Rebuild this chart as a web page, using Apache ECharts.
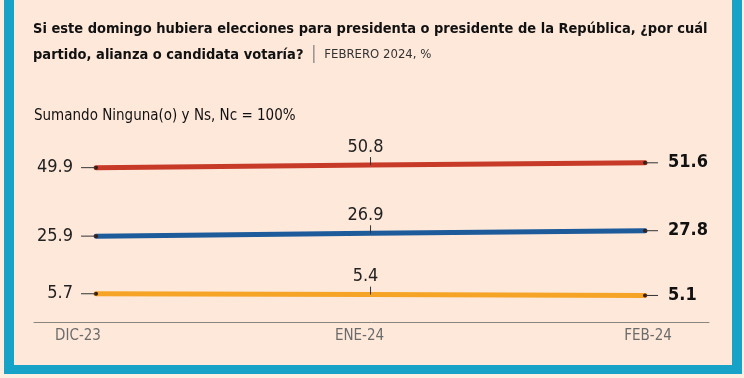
<!DOCTYPE html>
<html>
<head>
<meta charset="utf-8">
<script src="https://cdn.jsdelivr.net/npm/echarts@6/dist/echarts.min.js"></script>
<style>
  html, body { margin: 0; padding: 0; background: #fcefe2; }
  #frame {
    position: absolute; left: 4px; top: -10px; width: 718px; height: 375px;
    background: #fde8da; border: 10px solid #17a2c8; border-top: none; border-bottom-width: 9px;
  }
  #chart { position: absolute; left: 0; top: 0; width: 744px; height: 378px; }
</style>
</head>
<body>
<div id="frame"></div>
<div id="chart"></div>
<script>
const categories = ['DIC-23', 'ENE-24', 'FEB-24'];
const seriesNames = ['Sigamos Haciendo Historia', 'Fuerza y Corazón por México', 'Movimiento Ciudadano'];
const seriesRed = [49.9, 50.8, 51.6];
const seriesBlue = [25.9, 26.9, 27.8];
const seriesOrange = [5.7, 5.4, 5.1];
const seriesColors = ['#c83a28', '#1d5b9b', '#f6a426'];

const FONT = "'DejaVu Sans Condensed', 'Liberation Sans Narrow', sans-serif";
const allValues = [seriesRed, seriesBlue, seriesOrange];

function lineSeries(name, values, color) {
  return {
    name: name,
    type: 'line',
    z: 3,
    data: values.map((v, i) => {
      const item = { value: [i, v] };
      if (i === 0) {
        item.symbol = 'circle'; item.symbolSize = 4;
        item.label = { show: true, position: 'left', distance: 21, fontSize: 18, color: '#222', fontFamily: FONT };
      } else if (i === values.length - 1) {
        item.symbol = 'circle'; item.symbolSize = 4;
        item.label = { show: true, position: 'right', distance: 21, fontSize: 18, fontWeight: 'bold', color: '#111', fontFamily: FONT };
      } else {
        item.symbol = 'circle'; item.symbolSize = 0.1;
        item.label = { show: true, position: 'top', distance: 9, fontSize: 18, color: '#222', fontFamily: FONT, padding: [0, 10, 0, 0] };
      }
      return item;
    }),
    lineStyle: { color: color, width: 5, cap: 'round' },
    itemStyle: { color: '#3a1c12', borderWidth: 0 },
    label: { formatter: (p) => p.value[1].toFixed(1) },
    emphasis: { disabled: true },
    animation: false
  };
}

function leaderSeries(values) {
  return {
    type: 'custom',
    z: 4,
    data: values.map((v, i) => [i, v]),
    renderItem: function (params, api) {
      const p = api.coord([api.value(0), api.value(1)]);
      const n = values.length;
      let shape;
      if (params.dataIndex === 0) shape = { x1: p[0] - 15, y1: p[1], x2: p[0], y2: p[1] };
      else if (params.dataIndex === n - 1) shape = { x1: p[0], y1: p[1], x2: p[0] + 13, y2: p[1] };
      else shape = { x1: p[0], y1: p[1] - 8, x2: p[0], y2: p[1] };
      return { type: 'line', shape: shape, style: { stroke: '#333', lineWidth: 1 } };
    },
    silent: true,
    animation: false
  };
}

const labelShift = { 'DIC-23': 'l', 'ENE-24': 'm', 'FEB-24': 'r' };
const AXF = "'DejaVu Sans Condensed', sans-serif";

const chart = echarts.init(document.getElementById('chart'), null, { renderer: 'canvas' });
const series = [];
allValues.forEach((vals, k) => series.push(lineSeries(seriesNames[k], vals, seriesColors[k])));
allValues.forEach((vals) => series.push(leaderSeries(vals)));

chart.setOption({
  backgroundColor: 'transparent',
  animation: false,
  title: [
    {
      left: 33, top: 16, padding: 0,
      text: '{b|Si este domingo hubiera elecciones para presidenta o presidente de la República, ¿por cuál}\n{b|partido, alianza o candidata votaría?}{sep| | }{s|FEBRERO 2024, %}',
      textStyle: {
        fontWeight: 'normal',
        rich: {
          b: { fontFamily: FONT, fontSize: 14.5, fontWeight: 'bold', color: '#111', lineHeight: 26 },
          sep: { fontFamily: FONT, fontSize: 17, fontWeight: 'normal', color: '#888', lineHeight: 26, padding: [0, 3, 0, 3] },
          s: { fontFamily: FONT, fontSize: 13, fontWeight: 'normal', color: '#333', lineHeight: 26 }
        }
      }
    },
    {
      left: 34, top: 109, padding: 0,
      text: 'Sumando Ninguna(o) y Ns, Nc = 100%',
      textStyle: { fontFamily: FONT, fontSize: 15, fontWeight: 'normal', color: '#111' }
    }
  ],
  grid: { left: 34, right: 35, top: 130, bottom: 56 },
  xAxis: {
    type: 'value',
    min: -0.226, max: 2.233,
    axisLine: { show: true, onZero: false, lineStyle: { color: '#8a8580', width: 1 } },
    axisTick: { show: false },
    splitLine: { show: false },
    axisLabel: {
      customValues: categories.map((c, i) => i),
      formatter: (v) => { const c = categories[Math.round(v)]; return '{' + labelShift[c] + '|' + c + '}'; },
      margin: 7,
      color: '#6b6b6b',
      fontFamily: AXF,
      fontSize: 15,
      rich: {
        l: { padding: [0, 36, 0, 0], color: '#6b6b6b', fontSize: 15, fontFamily: AXF },
        m: { padding: [0, 22, 0, 0], color: '#6b6b6b', fontSize: 15, fontFamily: AXF },
        r: { padding: [0, 0, 0, 6], color: '#6b6b6b', fontSize: 15, fontFamily: AXF }
      }
    }
  },
  yAxis: {
    type: 'value', min: -4.2, max: 63.1, show: false
  },
  series: series
});
</script>
</body>
</html>
